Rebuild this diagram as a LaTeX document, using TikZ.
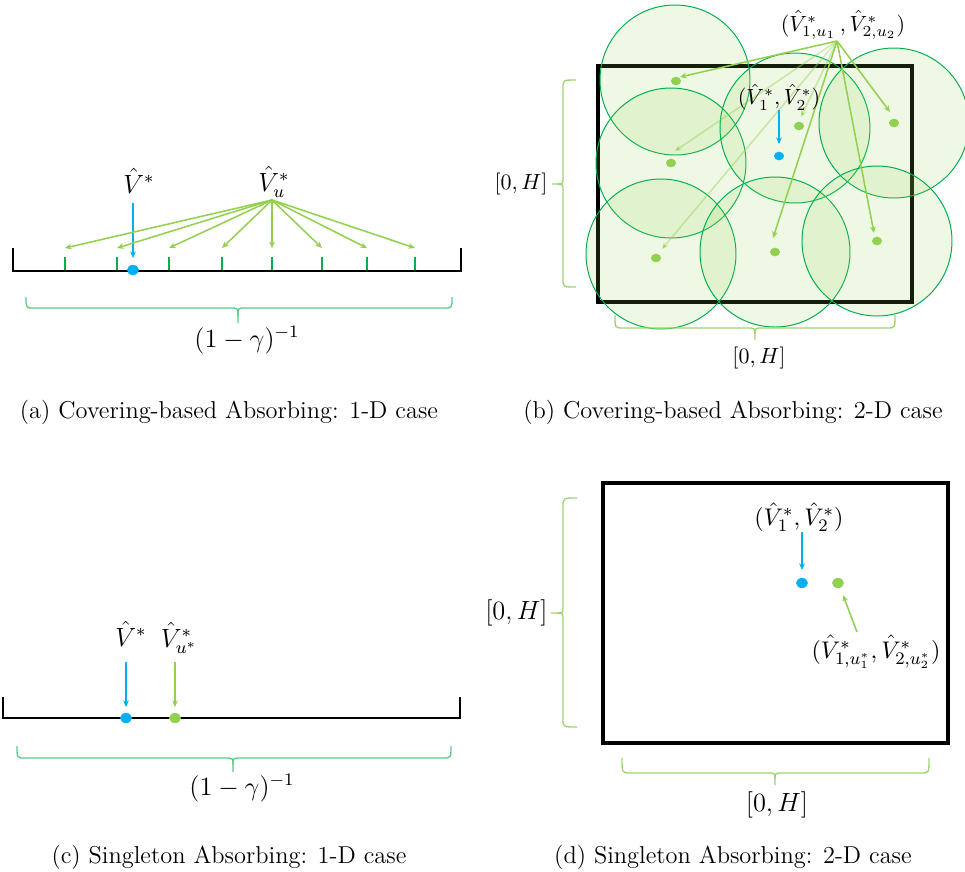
\documentclass[tikz,border=0pt]{standalone}
\usetikzlibrary{arrows.meta,shapes.geometric}
\definecolor{pblue}{HTML}{00B0F0}
\definecolor{pgreen}{HTML}{92D050}
\definecolor{dgreen}{HTML}{00B050}
\definecolor{bracea}{HTML}{5CCB85}
\definecolor{braceb}{HTML}{9CD46E}
\begin{document}
\begin{tikzpicture}[x=0.455pt,y=-0.455pt,
  arr/.style={-{Stealth[length=3pt,width=2.6pt]}, line width=0.7pt},
  barr/.style={arr, draw=pblue},
  garr/.style={arr, draw=pgreen},
  farr/.style={garr, draw opacity=0.45},
  axisline/.style={draw=black, line width=0.9pt},
  tickmark/.style={draw=dgreen, line width=0.9pt},
  dotnode/.style={ellipse, inner sep=0pt, minimum width=5.4pt, minimum height=4.6pt},
  bdot/.style={dotnode, fill=pblue},
  gdot/.style={dotnode, fill=pgreen},
  sdot/.style={ellipse, inner sep=0pt, minimum width=4.6pt, minimum height=3.9pt},
  bracestyleA/.style={draw=bracea, line width=0.6pt},
  bracestyleB/.style={draw=braceb, line width=0.6pt},
  ball/.style={draw=dgreen, line width=0.45pt, fill=pgreen, fill opacity=0.15},
  lab/.style={inner sep=0pt, font=\fontsize{10}{12}\selectfont},
  labm/.style={inner sep=0pt, font=\fontsize{11}{13}\selectfont},
  labl/.style={inner sep=0pt, font=\fontsize{12}{14}\selectfont},
  captext/.style={inner sep=0pt, font=\fontsize{11.1}{13}\selectfont}
]
\useasboundingbox (0,0) rectangle (965,871);

% ---------------- (a) ----------------
\draw[axisline] (13,248) -- (13,271) -- (461,271) -- (461,248);
\foreach \x [count=\i] in {65,117,169,222,272,322,367,415}{
  \draw[tickmark] (\x,257) -- (\x,270);
  \coordinate (a-t\i) at (\x,248);
}
\node[bdot] (a-v) at (133,270) {};
\node[labl] (a-lv) at (139,181) {$\hat V^*$};
\coordinate (a-bs) at (133,203);
\coordinate (a-be) at (133,258);
\draw[barr] (a-bs) -- (a-be);
\node[labl] (a-lu) at (274,182) {$\hat V^*_u$};
\coordinate (a-src) at (272,200);
\foreach \i in {1,...,8}{ \draw[garr] (a-src) -- (a-t\i); }
\draw[bracestyleA] (26,297) .. controls (26,308) .. (34,308) -- (230,308) .. controls (238,308) .. (238,316) -- (238,323);
\draw[bracestyleA] (238,316) .. controls (238,308) .. (246,308) -- (444,308) .. controls (452,308) .. (452,297);
\node[labl] (a-len) at (247,340) {$(1-\gamma)^{-1}$};
\node[captext] (a-cap) at (229,412) {(a) Covering-based Absorbing: 1-D case};

% ---------------- (b) ----------------
\draw[line width=1.4pt] (598,66) rectangle (912,302);
\foreach \cx/\cy [count=\i] in {675/80,671/163,661/254,795/128,775/252,894/123,877/241}{
  \draw[ball] (\cx,\cy) circle[radius=75];
}
\foreach \dx/\dy [count=\i] in {676/81,671/163,656/258,799/126,775/252,894/123,877/241}{
  \node[sdot, fill=pgreen] (b-d\i) at (\dx,\dy) {};
}
\node[lab] (b-lu) at (843,25) {$(\hat V^*_{1,u_1}\,,\hat V^*_{2,u_2})$};
\coordinate (b-src) at (837,41);
\coordinate (b-e1) at (680,77);
\coordinate (b-e2) at (675,151);
\coordinate (b-e3) at (662,249);
\coordinate (b-e4) at (801,117);
\coordinate (b-e5) at (773,238);
\coordinate (b-e6) at (890,112);
\coordinate (b-e7) at (874,233);
\draw[farr] (b-src) -- (b-e2);
\draw[farr] (b-src) -- (b-e3);
\draw[farr] (b-src) -- (b-e4);
\draw[garr] (b-src) -- (b-e1);
\draw[garr] (b-src) -- (b-e5);
\draw[garr] (b-src) -- (b-e6);
\draw[garr] (b-src) -- (b-e7);
\node[sdot, fill=pblue] (b-v) at (779,156) {};
\node[lab] (b-lv) at (779,97) {$(\hat V^*_1,\hat V^*_2)$};
\coordinate (b-bs) at (779,110);
\coordinate (b-be) at (779,144);
\draw[barr] (b-bs) -- (b-be);
% braces
\draw[bracestyleB] (615,315) .. controls (615,328) .. (623,328) -- (747,328) .. controls (755,328) .. (755,334) -- (755,340);
\draw[bracestyleB] (755,334) .. controls (755,328) .. (763,328) -- (887,328) .. controls (895,328) .. (895,315);
\node[lab] (b-hb) at (759,358) {$[0,H]$};
\draw[bracestyleB] (576,80) .. controls (563,80) .. (563,88) -- (563,176) .. controls (563,184) .. (557,184) -- (552,184);
\draw[bracestyleB] (557,184) .. controls (563,184) .. (563,192) -- (563,279) .. controls (563,287) .. (576,287);
\node[lab, anchor=east] (b-hl) at (548,184) {$[0,H]$};
\node[captext] (b-cap) at (733,412) {(b) Covering-based Absorbing: 2-D case};

% ---------------- (c) ----------------
\draw[axisline] (3,697) -- (3,718) -- (460,718) -- (460,697);
\node[bdot] (c-v) at (126,718) {};
\node[gdot] (c-u) at (175,718) {};
\node[labl] (c-lv) at (131,634) {$\hat V^*$};
\node[labl] (c-lu) at (179,638) {$\hat V^*_{u^*}$};
\coordinate (c-bs) at (126,662);
\coordinate (c-be) at (126,707);
\coordinate (c-gs) at (175,662);
\coordinate (c-ge) at (175,707);
\draw[barr] (c-bs) -- (c-be);
\draw[garr] (c-gs) -- (c-ge);
\draw[bracestyleA] (17,746) .. controls (17,758) .. (25,758) -- (225,758) .. controls (233,758) .. (233,765) -- (233,772);
\draw[bracestyleA] (233,765) .. controls (233,758) .. (241,758) -- (443,758) .. controls (451,758) .. (451,746);
\node[labl] (c-len) at (242,788) {$(1-\gamma)^{-1}$};
\node[captext] (c-cap) at (229,857) {(c) Singleton Absorbing: 1-D case};

% ---------------- (d) ----------------
\draw[line width=1.6pt] (603,483) rectangle (948,743);
\node[bdot] (d-v) at (802,583) {};
\node[gdot] (d-u) at (838,583) {};
\node[labm] (d-lv) at (799,517) {$(\hat V^*_1,\hat V^*_2)$};
\coordinate (d-bs) at (802,532);
\coordinate (d-be) at (802,570);
\draw[barr] (d-bs) -- (d-be);
\node[labm] (d-lu) at (876,652) {$(\hat V^*_{1,u_1^*},\hat V^*_{2,u_2^*})$};
\coordinate (d-gs) at (857,632);
\coordinate (d-ge) at (843,595);
\draw[garr] (d-gs) -- (d-ge);
\draw[bracestyleB] (577,498) .. controls (563,498) .. (563,506) -- (563,605) .. controls (563,613) .. (557,613) -- (551,613);
\draw[bracestyleB] (557,613) .. controls (563,613) .. (563,621) -- (563,719) .. controls (563,727) .. (577,727);
\node[labl, anchor=east] (d-hl) at (548,613) {$[0,H]$};
\draw[bracestyleB] (622,758) .. controls (622,773) .. (630,773) -- (767,773) .. controls (775,773) .. (775,779) -- (775,785);
\draw[bracestyleB] (775,779) .. controls (775,773) .. (783,773) -- (921,773) .. controls (929,773) .. (929,758);
\node[labl] (d-hb) at (777,805) {$[0,H]$};
\node[captext] (d-cap) at (733,857) {(d) Singleton Absorbing: 2-D case};
\end{tikzpicture}
\end{document}
